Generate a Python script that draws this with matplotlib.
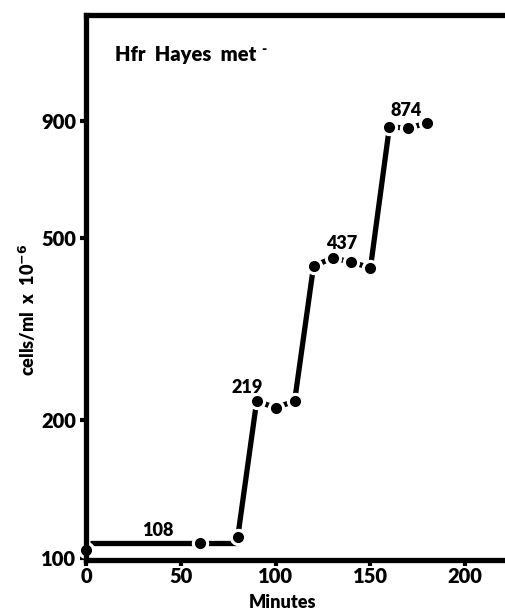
import numpy as np
import matplotlib.pyplot as plt
from matplotlib import ticker

# data
minutes = [0, 60, 80, 90, 100, 110, 120, 130, 140, 150, 160, 170, 180]
cells = [104, 108, 111, 220, 213, 220, 434, 452, 443, 430, 873, 869, 891]
level_x = [2, 80]
level_y = [108, 108]
plateau_labels = ['108', '219', '437', '874']
plateau_pos = [(38, 115), (85, 236), (135, 487), (169, 950)]
xticks = [0, 50, 100, 150, 200]
yticks = [100, 200, 500, 900]

plt.rcParams['font.family'] = ['Lato', 'DejaVu Sans']
plt.rcParams['font.weight'] = 'heavy'

fig = plt.figure(figsize=(5.06, 6.11), dpi=100)
ax = fig.add_axes([0.170, 0.0835, 0.830, 0.892])
ax.set_yscale('log')
ax.set_xlim(0, 221.5)
ax.set_ylim(99, 1534)

# lines
ax.plot(level_x, level_y, color='black', lw=3.8, solid_capstyle='butt', zorder=2)
ax.plot(minutes[2:], cells[2:], color='black', lw=3.8, solid_capstyle='butt', zorder=2)
# white halo then black dots
ax.plot(minutes, cells, 'o', color='white', ms=12.5, mec='none', zorder=2.1, clip_on=False)
ax.plot(minutes, cells, 'o', color='black', ms=8, mec='none', zorder=2.2, clip_on=False)

for lab, (px, py) in zip(plateau_labels, plateau_pos):
    ax.text(px, py, lab, ha='center', va='center', fontsize=13, fontweight='heavy')

ax.text(0.068, 0.927, 'Hfr  Hayes  met', transform=ax.transAxes,
        fontsize=14.5, fontweight='heavy', va='center')
ax.text(0.418, 0.936, '-', transform=ax.transAxes,
        fontsize=10, fontweight='heavy', va='center')

ax.spines['right'].set_visible(False)
for s in ['left', 'top', 'bottom']:
    ax.spines[s].set_linewidth(3.8)

ax.xaxis.set_major_locator(ticker.FixedLocator(xticks))
ax.yaxis.set_major_locator(ticker.FixedLocator(yticks))
ax.yaxis.set_minor_locator(ticker.NullLocator())
ax.yaxis.set_major_formatter(ticker.FixedFormatter([str(v) for v in yticks]))
ax.set_xticklabels([str(v) for v in xticks])
ax.tick_params(axis='both', which='major', direction='out', length=4, width=3,
               labelsize=14.5, pad=1)
ax.tick_params(axis='y', pad=3)

ax.set_xlabel('Minutes', fontsize=13, fontweight='heavy')
ax.xaxis.set_label_coords(0.468, -0.062)
ax.set_ylabel('cells/ml  x  10$^{\\mathbf{-6}}$', fontsize=13, fontweight='heavy')
ax.yaxis.set_label_coords(-0.115, 0.46)

plt.savefig('out.png', dpi=100)
